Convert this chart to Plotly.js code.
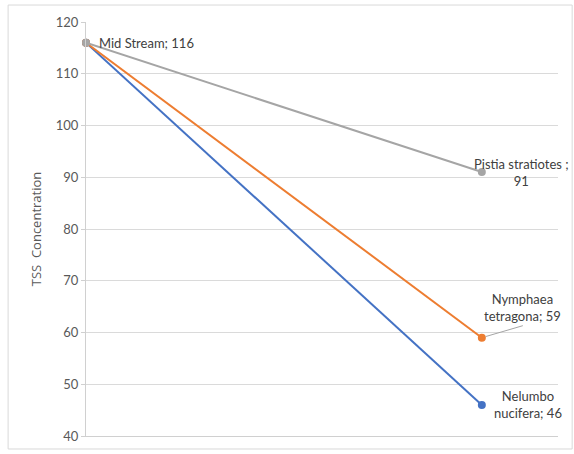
<!DOCTYPE html>
<html>
<head>
<meta charset="utf-8">
<script src="https://cdn.plot.ly/plotly-3.0.1.min.js"></script>
<style>html,body{margin:0;padding:0;background:#fff;}#chart{width:574px;height:454px;}</style>
</head>
<body>
<div id="chart"></div>
<script>
const stations = ["Mid Stream", "Downstream"];
const xPos = [0, 1];
const seriesNames = ["Nelumbo nucifera", "Nymphaea tetragona", "Pistia stratiotes"];
const nelumbo = [116, 46];
const nymphaea = [116, 59];
const pistia = [116, 91];
const colors = ["#4472C4", "#ED7D31", "#A5A5A5"];
const yTicks = [40, 50, 60, 70, 80, 90, 100, 110, 120];

const values = [nelumbo, nymphaea, pistia];
const traces = values.map((v, i) => ({
  x: xPos, y: v, type: "scatter", mode: "lines+markers",
  name: seriesNames[i],
  line: {color: colors[i], width: 2},
  marker: {color: colors[i], size: 8},
  cliponaxis: false, hoverinfo: "none"
}));

const labFont = {family: "Lato, 'Open Sans', sans-serif", size: 13, color: "#404040"};
const annotations = [
  {x: xPos[0], y: pistia[0], text: stations[0] + "; " + pistia[0], xanchor: "left", yanchor: "middle", xshift: 11, showarrow: false, font: labFont},
  {x: xPos[1], y: pistia[1], text: "Pistia stratiotes ;<br>" + pistia[1], xanchor: "center", yanchor: "middle", xshift: 40, yshift: 0, showarrow: false, font: labFont},
  {x: xPos[1], y: nymphaea[1], text: "Nymphaea<br>tetragona; " + nymphaea[1], showarrow: true, arrowhead: 0, arrowwidth: 1, arrowcolor: "#A5A5A5",
   xanchor: "center", yanchor: "bottom", ax: 41, ay: -12, standoff: 4, font: labFont},
  {x: xPos[1], y: nelumbo[1], text: "Nelumbo<br>nucifera; " + nelumbo[1], xanchor: "center", yanchor: "middle", xshift: 46, yshift: 0, showarrow: false, font: labFont}
];

const layout = {
  width: 574, height: 454,
  margin: {l: 86, r: 16, t: 22, b: 18},
  paper_bgcolor: "#ffffff", plot_bgcolor: "#ffffff",
  showlegend: false,
  font: {family: "Lato, 'Open Sans', sans-serif", color: "#595959"},
  xaxis: {range: [0, 1.1924], showgrid: false, zeroline: false, showticklabels: false, ticks: "",
          showline: true, linecolor: "#D0D0D0", linewidth: 1},
  yaxis: {range: [40, 120], tickvals: yTicks, showgrid: true, gridcolor: "#DADADA", gridwidth: 1,
          zeroline: false, showline: true, linecolor: "#D0D0D0", linewidth: 1,
          ticks: "outside", ticklen: 4, tickcolor: "#D0D0D0",
          tickfont: {family: "Lato, 'Open Sans', sans-serif", size: 13, color: "#595959"},
          title: {text: "TSS  Concentration", standoff: 11, font: {family: "'Open Sans', sans-serif", size: 13, color: "#595959"}}},
  annotations: annotations,
  shapes: [{type: "rect", xref: "paper", yref: "paper", x0: -0.165, x1: 1.03, y0: -0.0314, y1: 1.041,
            line: {color: "#D9D9D9", width: 1}, fillcolor: "rgba(0,0,0,0)", layer: "below"}]
};

Plotly.newPlot("chart", traces, layout, {staticPlot: true});
</script>
</body>
</html>
